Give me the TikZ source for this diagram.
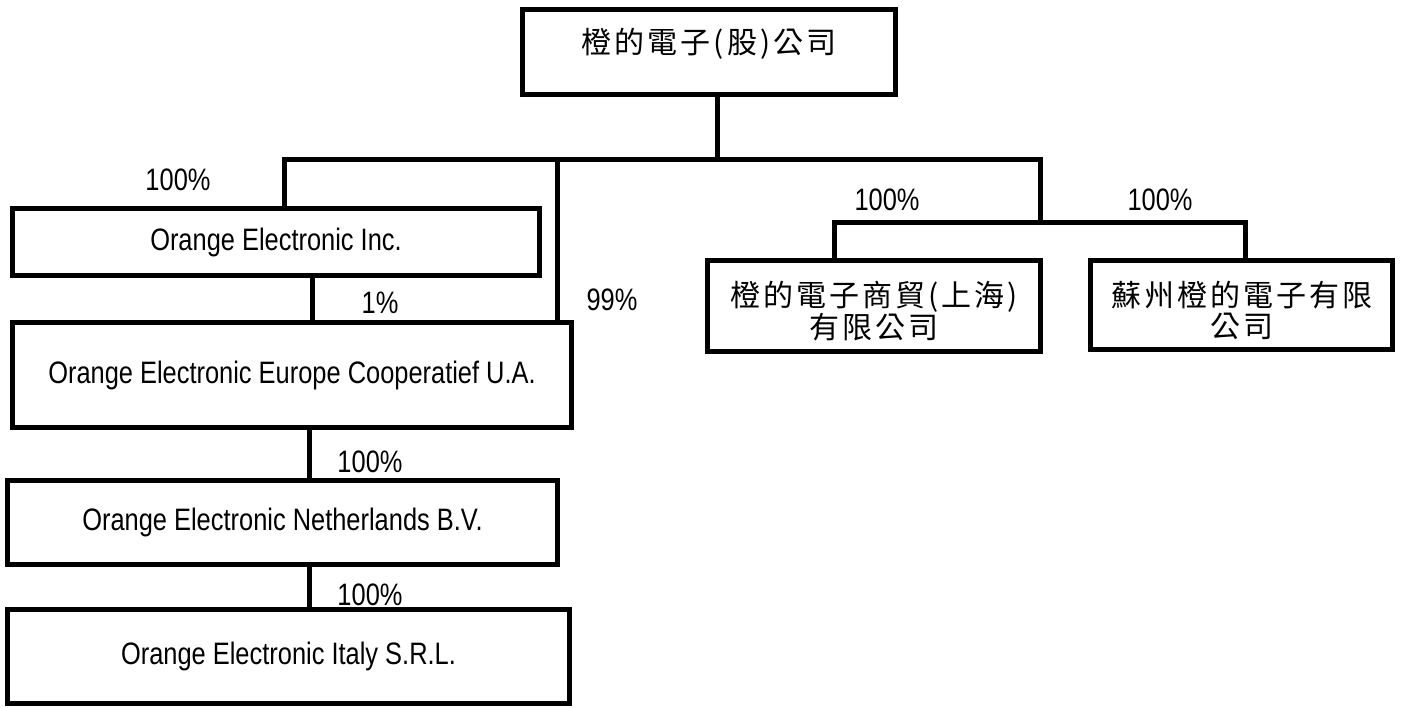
\documentclass[tikz,border=0pt]{standalone}
\usepackage{fontspec}
\setmainfont{Liberation Sans}[FakeStretch=0.82]
\newfontfamily\cjk{Noto Sans CJK TC}[LetterSpace=10]
\usepackage{tikz}
\usetikzlibrary{positioning}
\tikzset{orgbox/.style={rectangle,draw,line width=5pt,inner sep=0pt,font=\fontsize{31}{34}\selectfont},
  cjkbox/.style={orgbox,align=center,font=\cjk\fontsize{30}{31}\selectfont},
  share/.style={inner sep=0pt,font=\fontsize{31}{34}\selectfont},
  link/.style={line width=5pt,line join=miter}}

\begin{document}
\begin{tikzpicture}[x=1pt,y=-1pt]
        \useasboundingbox (0,0) rectangle (1404,707);

        \node[cjkbox,minimum width=373pt,minimum height=85pt,text depth=23pt] (parent) at (709,52) {橙的電子(股)公司};

        \node[orgbox,minimum width=527pt,minimum height=67pt] (inc) at (276,242) {Orange Electronic Inc.};
        \node[orgbox,minimum width=559pt,minimum height=105pt] (eu) at (292,375) {Orange Electronic Europe Cooperatief U.A.};
        \node[orgbox,minimum width=550pt,minimum height=84pt] (nl) at (282.5,522.5) {Orange Electronic Netherlands B.V.};
        \node[orgbox,minimum width=562pt,minimum height=94pt] (it) at (288.5,656.5) {Orange Electronic Italy S.R.L.};

        \node[cjkbox,minimum width=333pt,minimum height=91pt,text height=69pt,text depth=4pt] (sh) at (874,306) {橙的電子商貿(上海)\\有限公司};
        \node[cjkbox,minimum width=302pt,minimum height=89pt,text height=69pt,text depth=4pt] (sz) at (1241.5,305) {蘇州橙的電子有限\\公司};

        % bus lines
        \coordinate (hub) at (717,159.5);
        \coordinate (busL) at (284.5,159.5);
        \coordinate (busR) at (1040.5,159.5);
        \coordinate (bus99) at (557,159.5);
        \coordinate (cnbus) at (1040.5,222.5);
        \coordinate (cnL) at (834.5,222.5);
        \coordinate (cnR) at (1245.5,222.5);
        \coordinate (own1) at (312.5,0);
        \coordinate (chain) at (309.5,0);

        \draw[link] (hub |- parent.south) to (hub);
        \draw[link] (inc.north -| busL) -- (busL) -- (busR) -- (cnbus);
        \draw[link] (bus99) to (eu.north -| bus99);
        \draw[link] (inc.south -| own1) to (eu.north -| own1);
        \draw[link] (sh.north -| cnL) -- (cnL) -- (cnR) -- (sz.north -| cnR);
        \draw[link] (eu.south -| chain) to (nl.north -| chain);
        \draw[link] (nl.south -| chain) to (it.north -| chain);

        \node[share] (p_inc) at (178,180) {100\%};
        \node[share] (p_eu1) at (380,303) {1\%};
        \node[share] (p_eu99) at (612,300) {99\%};
        \node[share] (p_nl) at (370,462) {100\%};
        \node[share] (p_it) at (370,595) {100\%};
        \node[share] (p_sh) at (887,200) {100\%};
        \node[share] (p_sz) at (1160,200) {100\%};
    \end{tikzpicture}
\end{document}
